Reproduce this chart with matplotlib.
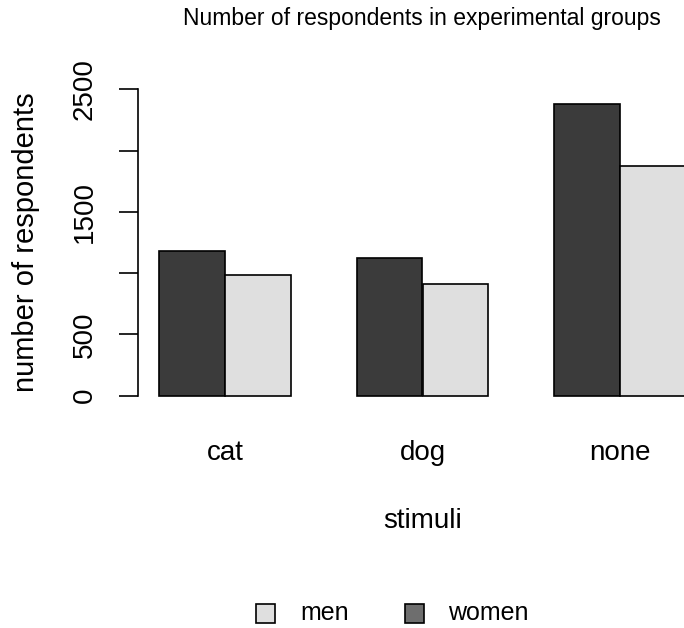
import numpy as np
import matplotlib
matplotlib.use("Agg")
import matplotlib.pyplot as plt
from matplotlib.patches import Rectangle

plt.rcParams['font.family'] = ['Liberation Sans', 'DejaVu Sans']

stimuli = ['cat', 'dog', 'none']
women = [1184, 1125, 2380]
men = [986, 915, 1875]
yticks = [0, 500, 1000, 1500, 2000, 2500]
ytick_labels = ['0', '500', '', '1500', '', '2500']
legend_labels = ['men', 'women']

dark = '#3b3b3b'
light = '#dfdfdf'
legend_dark = '#6e6e6e'

fig = plt.figure(figsize=(6.84, 6.28), dpi=100)
W, H = 684, 628
# plot region in pixels (R style), runs past the right edge of the image
left, right, top, bottom = 138, 707, 77, 408
ax = fig.add_axes([left / W, 1 - bottom / H, (right - left) / W, (bottom - top) / H])

# R barplot beside=TRUE, space=c(0,1): groups start at 1, 4, 7
x = np.arange(len(stimuli)) * 3 + 1
ax.bar(x, women, width=1, align='edge', color=dark, edgecolor='black', linewidth=1.2)
ax.bar(x + 1, men, width=1, align='edge', color=light, edgecolor='black', linewidth=1.2)

ax.set_xlim(0.68, 9.32)
ax.set_ylim(-100, 2600)

for s in ['top', 'right', 'bottom']:
    ax.spines[s].set_visible(False)
ax.spines['left'].set_bounds(0, 2500)
ax.spines['left'].set_linewidth(1.2)

ax.set_yticks(yticks)
ax.set_yticklabels(ytick_labels, rotation=90, va='center', fontsize=20)
ax.tick_params(axis='y', length=14, width=1.2, pad=15)

ax.set_xticks(x + 1)
ax.set_xticklabels(stimuli, fontsize=20)
ax.tick_params(axis='x', length=0, pad=23)

ax.set_xlabel('stimuli', fontsize=20, labelpad=30)
ax.set_ylabel('number of respondents', fontsize=21, labelpad=23)
fig.text(422 / W, 1 - 18 / H, 'Number of respondents in experimental groups',
         fontsize=16.5, ha='center', va='center')

# legend drawn R style below the plot
box = 19
for lab, col, bx, tx in zip(legend_labels, [light, legend_dark], [265, 414], [300, 448]):
    fig.patches.append(Rectangle(((bx - box / 2) / W, 1 - (613 + box / 2) / H), box / W, box / H,
                                 transform=fig.transFigure, facecolor=col,
                                 edgecolor='black', linewidth=1.2))
    fig.text(tx / W, 1 - 613 / H, lab, fontsize=18, ha='left', va='center')

fig.savefig('out.png', dpi=100)
